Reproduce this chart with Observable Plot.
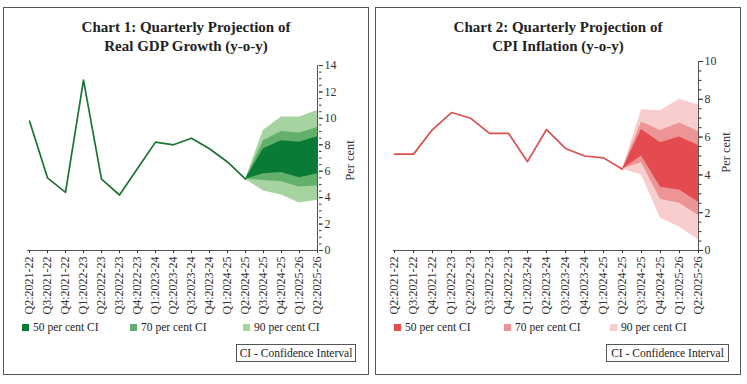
<!DOCTYPE html>
<html><head><meta charset="utf-8">
<script src="https://cdn.jsdelivr.net/npm/d3@7"></script>
<script src="https://cdn.jsdelivr.net/npm/@observablehq/plot@0.6"></script>
<style>
body{margin:0;background:#fff;font-family:"Liberation Serif",serif;color:#222;width:747px;height:384px;position:relative;overflow:hidden;}
.panel{position:absolute;top:7px;height:368px;box-sizing:border-box;border:1px solid #555;background:#fff;}
.title{position:absolute;left:0;right:0;top:10px;text-align:center;font-weight:bold;font-size:15px;line-height:19px;color:#222;}
.plot{position:absolute;left:0;top:47px;}
.leg{position:absolute;top:312px;height:14px;font-size:11.5px;display:flex;align-items:center;white-space:nowrap;color:#222;}
.sw{width:7px;height:7px;margin-right:4px;display:inline-block}
.ci{position:absolute;top:336px;height:18px;border:1px solid #555;font-size:11.5px;line-height:16px;text-align:center;box-sizing:border-box;white-space:nowrap;color:#222;}
</style></head><body>
<div id="p1" class="panel" style="left:3px;width:366px"></div>
<div id="p2" class="panel" style="left:375px;width:366px"></div>
<script>
const quarters = ["Q2:2021-22","Q3:2021-22","Q4:2021-22","Q1:2022-23","Q2:2022-23","Q3:2022-23","Q4:2022-23","Q1:2023-24","Q2:2023-24","Q3:2023-24","Q4:2023-24","Q1:2024-25","Q2:2024-25","Q3:2024-25","Q4:2024-25","Q1:2025-26","Q2:2025-26"];

// Chart 1: Real GDP growth
const gdpActual = [9.8, 5.5, 4.4, 12.9, 5.4, 4.2, 6.2, 8.2, 8.0, 8.5, 7.7, 6.7, 5.4];
const gdp50Lo = [5.4, 5.8, 5.9, 5.5, 5.8];
const gdp50Hi = [5.4, 7.7, 8.3, 8.2, 8.6];
const gdp70Lo = [5.4, 5.3, 5.2, 4.8, 4.9];
const gdp70Hi = [5.4, 8.3, 9.0, 8.9, 9.3];
const gdp90Lo = [5.4, 4.5, 4.2, 3.6, 3.8];
const gdp90Hi = [5.4, 9.1, 10.1, 10.1, 10.6];

// Chart 2: CPI inflation
const cpiActual = [5.1, 5.1, 6.4, 7.3, 7.0, 6.2, 6.2, 4.7, 6.4, 5.4, 5.0, 4.9, 4.3];
const cpi50Lo = [4.3, 5.0, 3.35, 3.2, 2.55];
const cpi50Hi = [4.3, 6.4, 5.7, 6.0, 5.55];
const cpi70Lo = [4.3, 4.65, 2.7, 2.5, 1.85];
const cpi70Hi = [4.3, 6.8, 6.35, 6.75, 6.3];
const cpi90Lo = [4.3, 4.0, 1.7, 1.25, 0.55];
const cpi90Hi = [4.3, 7.45, 7.4, 8.0, 7.7];

const titles1 = ["Chart 1: Quarterly Projection of", "Real GDP Growth (y-o-y)"];
const titles2 = ["Chart 2: Quarterly Projection of", "CPI Inflation (y-o-y)"];
const legendLabels = ["50 per cent CI", "70 per cent CI", "90 per cent CI"];
const ciNote = "CI - Confidence Interval";
const yLabel = "Per cent";

function makePanel(el, cfg) {
  const t = document.createElement("div");
  t.className = "title";
  t.innerHTML = cfg.titles.join("<br>");
  el.appendChild(t);

  const actual = cfg.actual.map((v, i) => ({q: quarters[i], v}));
  const start = cfg.actual.length - 1;
  const fan = cfg.lo50.map((_, i) => ({
    q: quarters[start + i],
    lo50: cfg.lo50[i], hi50: cfg.hi50[i],
    lo70: cfg.lo70[i], hi70: cfg.hi70[i],
    lo90: cfg.lo90[i], hi90: cfg.hi90[i]
  }));

  const chart = Plot.plot({
    width: 364, height: 263,
    marginLeft: cfg.ml, marginRight: cfg.mr, marginTop: cfg.mt, marginBottom: 68,
    x: {type: "point", domain: quarters, padding: 0},
    y: {domain: [0, cfg.yMax]},
    style: {fontFamily: "Liberation Serif, serif", fontSize: "12px", color: "#333", background: "transparent"},
    marks: [
      Plot.areaY(fan, {x: "q", y1: "lo90", y2: "hi90", fill: cfg.colors[2]}),
      Plot.areaY(fan, {x: "q", y1: "lo70", y2: "hi70", fill: cfg.colors[1]}),
      Plot.areaY(fan, {x: "q", y1: "lo50", y2: "hi50", fill: cfg.colors[0]}),
      Plot.lineY(actual, {x: "q", y: "v", stroke: cfg.line, strokeWidth: 1.7}),
      Plot.ruleY([0], {stroke: "#555"}),
      Plot.ruleX([quarters[quarters.length - 1]], {stroke: "#555"}),
      Plot.axisY(d3.range(0, cfg.yMax + 0.01, 0.5), {anchor: "right", tickSize: 2.5, tickFormat: () => "", label: null}),
      Plot.axisY(d3.range(0, cfg.yMax + 0.01, 2), {anchor: "right", tickSize: 4, tickPadding: 2, label: null}),
      Plot.axisX({tickRotate: -90, tickSize: 3, tickPadding: 3, label: null}),
      Plot.text([yLabel], {frameAnchor: "right", textAnchor: "middle", rotate: -90, dx: cfg.labDx, dy: cfg.labDy, fontSize: 12.5, fill: "#333"})
    ]
  });
  chart.classList.add("plot");
  el.appendChild(chart);

  legendLabels.forEach((lab, i) => {
    const d = document.createElement("div");
    d.className = "leg";
    d.style.left = cfg.legX[i] + "px";
    d.innerHTML = `<span class="sw" style="background:${cfg.colors[i]}"></span>${lab}`;
    el.appendChild(d);
  });
  const c = document.createElement("div");
  c.className = "ci";
  c.style.left = cfg.ciX + "px";
  c.style.width = cfg.ciW + "px";
  c.textContent = ciNote;
  el.appendChild(c);
}

makePanel(document.getElementById("p1"), {
  titles: titles1, actual: gdpActual,
  lo50: gdp50Lo, hi50: gdp50Hi, lo70: gdp70Lo, hi70: gdp70Hi, lo90: gdp90Lo, hi90: gdp90Hi,
  yMax: 14, ml: 23, mr: 50, mt: 10, labDx: 31, labDy: 2.5,
  colors: ["#0a7a37", "#62b06a", "#a6d4a1"], line: "#1d7236",
  legX: [18, 126, 239], ciX: 232, ciW: 120
});
makePanel(document.getElementById("p2"), {
  titles: titles2, actual: cpiActual,
  lo50: cpi50Lo, hi50: cpi50Hi, lo70: cpi70Lo, hi70: cpi70Hi, lo90: cpi90Lo, hi90: cpi90Hi,
  yMax: 10, ml: 17, mr: 42, mt: 6, labDx: 27, labDy: -3.5,
  colors: ["#e44b4f", "#ef9496", "#f8cdcd"], line: "#d9504d",
  legX: [18, 128, 234], ciX: 230, ciW: 123
});
</script>
</body></html>
